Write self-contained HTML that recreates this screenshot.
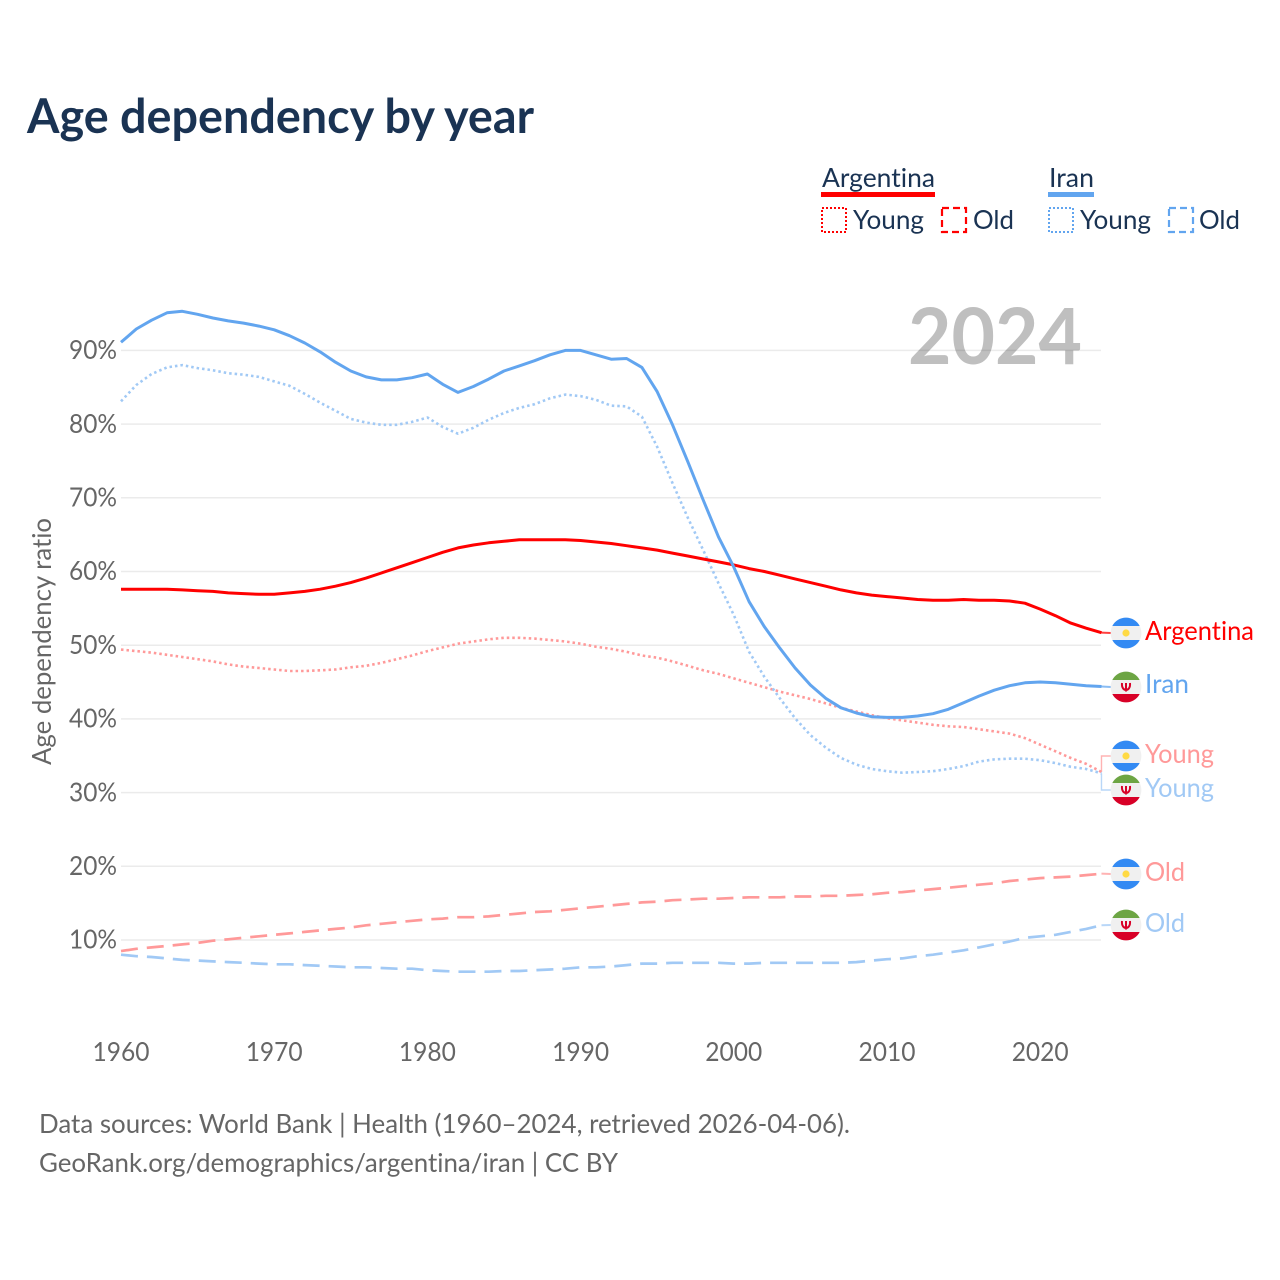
<!DOCTYPE html>
<html lang="en">
<head>
<meta charset="utf-8">
<title>Age dependency by year</title>
<style>
html,body{margin:0;padding:0;background:#fff}
svg{display:block;font-family:"Lato","Carlito","Liberation Sans",sans-serif;font-variant-ligatures:none}
</style>
</head>
<body>
<svg id="chart" xmlns="http://www.w3.org/2000/svg" width="1280" height="1280" viewBox="0 0 1280 1280">
<defs>
<g id="flag-ar">
<circle r="15.4" fill="#f0f0f0"/>
<path d="M-13.7,-7A15.4,15.4 0 0 1 13.7,-7Z" fill="#338af3"/>
<path d="M-13.7,7A15.4,15.4 0 0 0 13.7,7Z" fill="#338af3"/>
<circle r="3.6" fill="#ffda44"/>
</g>
<g id="flag-ir">
<circle r="15.4" fill="#f0f0f0"/>
<path d="M-13.7,-7A15.4,15.4 0 0 1 13.7,-7Z" fill="#6da544"/>
<path d="M-13.7,7A15.4,15.4 0 0 0 13.7,7Z" fill="#d80027"/>
<path d="M-4,-4C-4.5,1 -2,3 0,3C2,3 4.5,1 4,-4M0,-4V4.5" fill="none" stroke="#d80027" stroke-width="2"/>
</g>
</defs>

<text x="27" y="133" font-size="48" font-weight="700" fill="#1a3353" textLength="507" lengthAdjust="spacingAndGlyphs">Age dependency by year</text>

<g>
<text x="822" y="187" font-size="26.5" fill="#1a3353" textLength="113" lengthAdjust="spacingAndGlyphs">Argentina</text>
<rect x="821" y="192" width="114" height="5" fill="#ff0000"/>
<rect x="822" y="208" width="24" height="24" fill="none" stroke="#ff0000" stroke-width="2" stroke-dasharray="2 2"/>
<text x="853" y="229" font-size="26.5" fill="#1a3353" textLength="71" lengthAdjust="spacingAndGlyphs">Young</text>
<rect x="942" y="208" width="24" height="24" fill="none" stroke="#ff0000" stroke-width="2.2" stroke-dasharray="7 4"/>
<text x="973" y="229" font-size="26.5" fill="#1a3353" textLength="41" lengthAdjust="spacingAndGlyphs">Old</text>
<text x="1049" y="187" font-size="26.5" fill="#1a3353" textLength="45" lengthAdjust="spacingAndGlyphs">Iran</text>
<rect x="1048" y="192" width="46" height="5" fill="#62a5ef"/>
<rect x="1049" y="208" width="24" height="24" fill="none" stroke="#62a5ef" stroke-width="2" stroke-dasharray="2 2"/>
<text x="1080" y="229" font-size="26.5" fill="#1a3353" textLength="71" lengthAdjust="spacingAndGlyphs">Young</text>
<rect x="1169" y="208" width="24" height="24" fill="none" stroke="#62a5ef" stroke-width="2.2" stroke-dasharray="7 4"/>
<text x="1199" y="229" font-size="26.5" fill="#1a3353" textLength="41" lengthAdjust="spacingAndGlyphs">Old</text>
</g>

<text x="908" y="364" font-size="78" font-weight="700" fill="#bfbfbf" textLength="174" lengthAdjust="spacingAndGlyphs">2024</text>

<g id="grid"></g>
<g id="yticks"></g>
<g id="xticks"></g>

<text transform="translate(51,765) rotate(-90)" font-size="26" fill="#666666" textLength="247" lengthAdjust="spacingAndGlyphs">Age dependency ratio</text>

<g id="series"></g>
<g id="leaders"></g>

<g>
<use href="#flag-ar" x="1126" y="633"/>
<text x="1145" y="640" font-size="26.5" fill="#ff0000" textLength="109" lengthAdjust="spacingAndGlyphs">Argentina</text>
<use href="#flag-ir" x="1126" y="687"/>
<text x="1145" y="693" font-size="26.5" fill="#62a5ef" textLength="44" lengthAdjust="spacingAndGlyphs">Iran</text>
<use href="#flag-ar" x="1126" y="756"/>
<text x="1145" y="763" font-size="26.5" fill="#ff9999" textLength="69" lengthAdjust="spacingAndGlyphs">Young</text>
<use href="#flag-ir" x="1126" y="790"/>
<text x="1145" y="797" font-size="26.5" fill="#a1c9f5" textLength="69" lengthAdjust="spacingAndGlyphs">Young</text>
<use href="#flag-ar" x="1126" y="874"/>
<text x="1145" y="881" font-size="26.5" fill="#ff9999" textLength="40" lengthAdjust="spacingAndGlyphs">Old</text>
<use href="#flag-ir" x="1126" y="925"/>
<text x="1145" y="932" font-size="26.5" fill="#a1c9f5" textLength="40" lengthAdjust="spacingAndGlyphs">Old</text>
</g>

<text x="39" y="1133" font-size="26" fill="#666666" textLength="811" lengthAdjust="spacingAndGlyphs">Data sources: World Bank | Health (1960–2024, retrieved 2026-04-06).</text>
<text x="39" y="1172" font-size="26" fill="#666666" textLength="579" lengthAdjust="spacingAndGlyphs">GeoRank.org/demographics/argentina/iran | CC BY</text>
</svg>

<script>
const years = [1960,1961,1962,1963,1964,1965,1966,1967,1968,1969,1970,1971,1972,1973,1974,1975,1976,1977,1978,1979,1980,1981,1982,1983,1984,1985,1986,1987,1988,1989,1990,1991,1992,1993,1994,1995,1996,1997,1998,1999,2000,2001,2002,2003,2004,2005,2006,2007,2008,2009,2010,2011,2012,2013,2014,2015,2016,2017,2018,2019,2020,2021,2022,2023,2024];
const yTickValues = [10,20,30,40,50,60,70,80,90];
const xTickValues = [1960,1970,1980,1990,2000,2010,2020];

const iranTotal = [91.1,92.9,94.1,95.1,95.3,94.9,94.4,94.0,93.7,93.3,92.8,92.0,91.0,89.8,88.4,87.2,86.4,86.0,86.0,86.3,86.8,85.4,84.3,85.1,86.1,87.2,87.9,88.6,89.4,90.0,90.0,89.4,88.8,88.9,87.7,84.4,79.9,74.9,69.7,64.7,60.6,55.9,52.5,49.6,46.9,44.6,42.8,41.5,40.8,40.3,40.2,40.2,40.4,40.7,41.3,42.2,43.1,43.9,44.5,44.9,45.0,44.9,44.7,44.5,44.4];
const iranYoung = [83.1,85.3,86.8,87.7,88.0,87.6,87.3,86.9,86.7,86.4,85.8,85.2,84.1,82.9,81.8,80.7,80.2,79.9,79.9,80.3,80.9,79.6,78.7,79.5,80.6,81.5,82.2,82.7,83.5,84.0,83.8,83.3,82.5,82.4,81.0,76.9,72.0,67.3,62.9,58.4,54.1,49.1,45.7,42.8,40.1,37.8,36.1,34.7,33.8,33.2,32.9,32.7,32.8,32.9,33.2,33.6,34.2,34.5,34.6,34.6,34.4,34.0,33.5,33.2,32.6];
const iranOld = [8.0,7.8,7.7,7.5,7.3,7.2,7.1,7.0,6.9,6.8,6.7,6.7,6.6,6.5,6.4,6.3,6.3,6.2,6.1,6.1,5.9,5.8,5.7,5.7,5.7,5.8,5.8,5.9,6.0,6.1,6.3,6.3,6.4,6.6,6.8,6.8,6.9,6.9,6.9,6.9,6.8,6.8,6.9,6.9,6.9,6.9,6.9,6.9,7.0,7.2,7.4,7.5,7.8,8.0,8.3,8.6,9.0,9.4,9.8,10.3,10.5,10.7,11.1,11.5,12.0];

const argentinaTotal = [57.6,57.6,57.6,57.6,57.5,57.4,57.3,57.1,57.0,56.9,56.9,57.1,57.3,57.6,58.0,58.5,59.1,59.8,60.5,61.2,61.9,62.6,63.2,63.6,63.9,64.1,64.3,64.3,64.3,64.3,64.2,64.0,63.8,63.5,63.2,62.9,62.5,62.1,61.7,61.3,60.9,60.4,60.0,59.5,59.0,58.5,58.0,57.5,57.1,56.8,56.6,56.4,56.2,56.1,56.1,56.2,56.1,56.1,56.0,55.7,54.9,54.0,53.0,52.3,51.7];
const argentinaYoung = [49.4,49.2,49.0,48.7,48.4,48.1,47.8,47.4,47.1,46.9,46.7,46.5,46.5,46.6,46.7,47.0,47.2,47.6,48.1,48.6,49.2,49.7,50.2,50.5,50.8,51.0,51.0,50.9,50.7,50.5,50.2,49.8,49.5,49.1,48.6,48.3,47.8,47.2,46.6,46.1,45.5,44.9,44.3,43.7,43.2,42.7,42.1,41.5,41.0,40.5,40.1,39.8,39.5,39.2,39.0,38.9,38.6,38.3,38.0,37.4,36.5,35.6,34.7,33.9,32.8];
const argentinaOld = [8.5,8.8,9.0,9.2,9.4,9.6,9.9,10.1,10.3,10.5,10.7,10.9,11.1,11.3,11.5,11.7,12.0,12.2,12.4,12.6,12.8,12.9,13.1,13.1,13.2,13.4,13.6,13.8,13.9,14.1,14.3,14.5,14.7,14.9,15.1,15.2,15.4,15.5,15.6,15.6,15.7,15.8,15.8,15.8,15.9,15.9,16.0,16.0,16.1,16.2,16.4,16.5,16.7,16.9,17.1,17.3,17.5,17.7,18.0,18.2,18.4,18.5,18.6,18.8,19.0];

const SVGNS = 'http://www.w3.org/2000/svg';
function xScale(year){ return 121 + (year - 1960) * 15.32; }
function yScale(value){ return 940 - (value - 10) * 7.37; }
function makeEl(tag, attrs){
  const el = document.createElementNS(SVGNS, tag);
  for (const k in attrs) el.setAttribute(k, attrs[k]);
  return el;
}

const gridGroup = document.getElementById('grid');
const yTickGroup = document.getElementById('yticks');
yTickValues.forEach(function(v){
  const line = makeEl('line', {x1:121, x2:1101, y1:yScale(v), y2:yScale(v), stroke:'#000000', 'stroke-opacity':0.08, 'stroke-width':1.5});
  
  
  gridGroup.appendChild(line);
  const label = makeEl('text', {x:69, y:yScale(v)+8.7, 'font-size':26, fill:'#666666', textLength:48, lengthAdjust:'spacingAndGlyphs'});
  
  
  label.textContent = v + '%';
  yTickGroup.appendChild(label);
});

const xTickGroup = document.getElementById('xticks');
xTickValues.forEach(function(y){
  const label = makeEl('text', {x:xScale(y)-28.5, y:1061, 'font-size':26, fill:'#666666', textLength:57, lengthAdjust:'spacingAndGlyphs'});
  
  
  label.textContent = y;
  xTickGroup.appendChild(label);
});

function pointsOf(values){
  return values.map(function(v, i){ return xScale(years[i]).toFixed(1) + ',' + yScale(v).toFixed(1); }).join(' ');
}
const seriesGroup = document.getElementById('series');
function addLine(values, color, dash, width){
  const line = makeEl('polyline', {points:pointsOf(values), fill:'none', stroke:color, 'stroke-width':width, 'stroke-linejoin':'round'});
  if (dash) line.setAttribute('stroke-dasharray', dash);
  
  
  seriesGroup.appendChild(line);
  return line;
}
addLine(argentinaYoung, '#ff9999', '2.5 3', 2.6);
addLine(iranYoung, '#a1c9f5', '2.5 3', 2.6);
addLine(argentinaOld, '#ff9999', '17 9', 2.7);
addLine(iranOld, '#a1c9f5', '17 9', 2.7);
addLine(argentinaTotal, '#ff0000', '', 3);
addLine(iranTotal, '#62a5ef', '', 3);

const leaderGroup = document.getElementById('leaders');
function addLeader(values, labelY, color){
  const endX = xScale(years[years.length - 1]);
  const endY = yScale(values[values.length - 1]);
  const isElbow = Math.abs(endY - labelY) > 5;
  const d = isElbow
    ? 'M' + endX + ',' + endY + 'V' + labelY + 'H1111'
    : 'M' + endX + ',' + endY + 'L1111,' + labelY;
  const path = makeEl('path', {d:d, fill:'none', stroke:color, 'stroke-opacity':0.75, 'stroke-width':isElbow ? 1.4 : 2});
  
  
  leaderGroup.appendChild(path);
}
addLeader(argentinaTotal, 633, '#ff0000');
addLeader(iranTotal, 687, '#62a5ef');
addLeader(argentinaYoung, 756, '#ff9999');
addLeader(iranYoung, 790, '#a1c9f5');
addLeader(argentinaOld, 874, '#ff9999');
addLeader(iranOld, 925, '#a1c9f5');
</script>
</body>
</html>
